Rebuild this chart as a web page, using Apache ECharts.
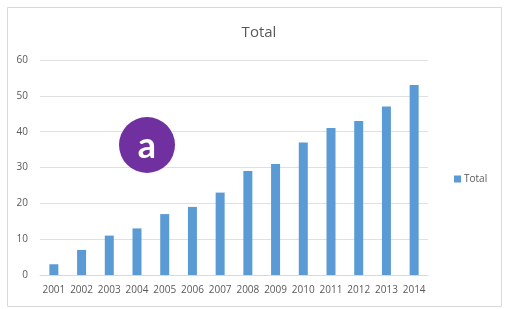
<!DOCTYPE html>
<html><head><meta charset="utf-8">
<script src="https://cdn.jsdelivr.net/npm/echarts@6/dist/echarts.min.js"></script>
<style>html,body{margin:0;padding:0;background:#fff}#c{width:506px;height:309px}</style>
</head><body><div id="c"></div>
<script>
const categories = ['2001','2002','2003','2004','2005','2006','2007','2008','2009','2010','2011','2012','2013','2014'];
const totalValues = [3,7,11,13,17,19,23,29,31,37,41,43,47,53];
const seriesName = 'Total';
const chartTitle = 'Total';
const yTicks = {min:0, max:60, interval:10};

const chart = echarts.init(document.getElementById('c'), null, {renderer:'canvas'});
const font = '"Open Sans", "Liberation Sans", sans-serif';
chart.setOption({
  animation:false,
  title:{text:chartTitle,left:254,top:20,textAlign:'center',textStyle:{color:'#595959',fontSize:15,fontWeight:'normal',fontFamily:font}},
  legend:{data:[seriesName],left:449,top:169,orient:'vertical',itemWidth:7,itemHeight:7,itemGap:4,icon:'rect',
    textStyle:{color:'#595959',fontSize:10,fontFamily:font,padding:[0,0,0,-2]}},
  grid:{left:40,right:78,top:60,bottom:34,containLabel:false},
  xAxis:{type:'category',data:categories,
    axisLine:{lineStyle:{color:'#d9d9d9'}},axisTick:{show:false},
    axisLabel:{color:'#595959',fontSize:10,fontFamily:font,margin:10,interval:0}},
  yAxis:{type:'value',min:yTicks.min,max:yTicks.max,interval:yTicks.interval,
    axisLine:{show:false},axisTick:{show:false},
    splitLine:{lineStyle:{color:'#e0e0e0'}},
    axisLabel:{color:'#595959',fontSize:10,fontFamily:font,margin:12}},
  series:[{name:seriesName,type:'bar',data:totalValues,barWidth:9,itemStyle:{color:'#5B9BD5'}}],
  graphic:[
    {type:'rect',shape:{x:7.5,y:7.5,width:494,height:299},style:{fill:'none',stroke:'#d9d9d9',lineWidth:1},silent:true},
    {type:'circle',shape:{cx:147,cy:145,r:28},style:{fill:'#7030A0'},z:100},
    {type:'text',x:147,y:146,style:{text:'a',fill:'#fff',fontSize:36,fontWeight:'bold',fontFamily:'Lato, "Open Sans", sans-serif',align:'center',verticalAlign:'middle'},z:101}
  ]
});
</script></body></html>
